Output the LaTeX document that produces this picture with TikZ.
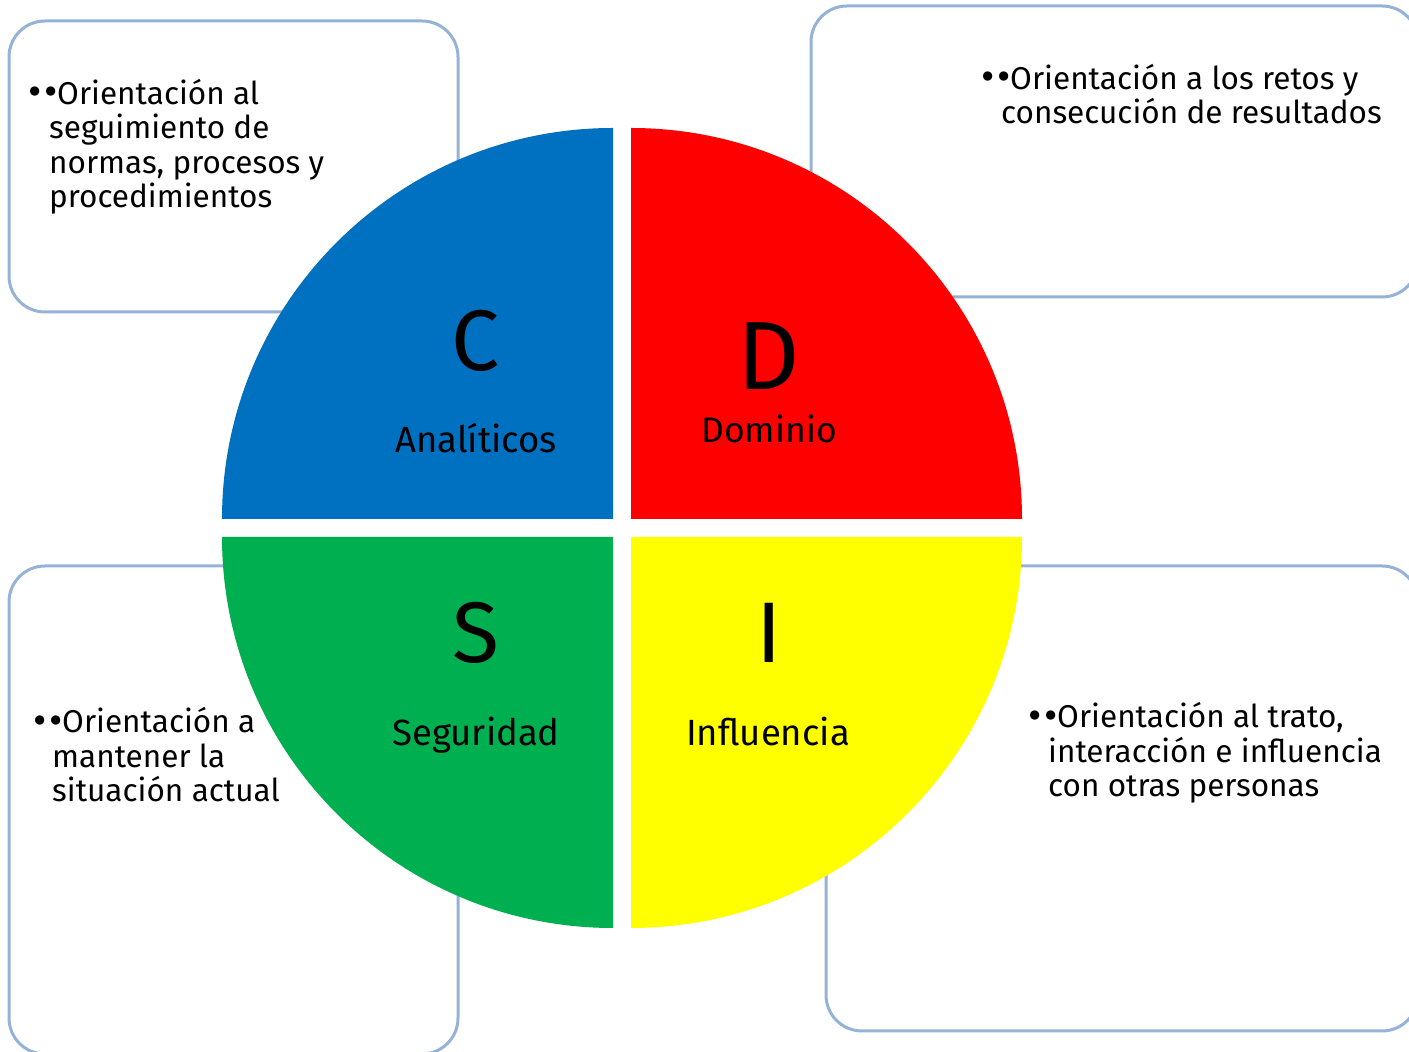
\documentclass[tikz,border=0pt]{standalone}
\usepackage{fontspec}
\setmainfont{Fira Sans}
\definecolor{cblue}{RGB}{0,112,192}
\definecolor{cred}{RGB}{255,0,0}
\definecolor{cgreen}{RGB}{0,176,80}
\definecolor{cyellow}{RGB}{255,255,0}
\definecolor{edgeblue}{RGB}{149,179,215}
\newcommand{\bigbul}{\raisebox{-1.2pt}{\scalebox{1.3}{•}}}
\newcommand{\twobul}{\bigbul\hspace{3.5pt}\bigbul\hspace{-1pt}}
\begin{document}
\begin{tikzpicture}[x=1pt,y=1pt,
  infobox/.style={draw=edgeblue, line width=3pt, fill=white, rounded corners=36pt},
  boxtext/.style={font=\fontsize{31.5}{34.5}\selectfont, align=left, anchor=base west, inner sep=0pt},
  bigletter/.style={font=\fontsize{86}{90}\selectfont, anchor=base, inner sep=0pt},
  quadlabel/.style={font=\fontsize{36.5}{40}\selectfont, anchor=base, inner sep=0pt}]
\useasboundingbox (0,0) rectangle (1409,1052);
\clip (0,0) rectangle (1409,1052);
\fill[white] (0,0) rectangle (1409,1052);
% boxes
\draw[infobox] (9,740) rectangle (458,1031);
\draw[infobox] (811,755) rectangle (1418,1046);
\draw[infobox] (9,-2) rectangle (458,486);
\draw[infobox] (826,21) rectangle (1418,486);
% quadrants
\fill[cblue] (613,533) -- ++(0,391) arc[start angle=90,end angle=180,radius=391] -- cycle;
\fill[cred] (631,533) -- ++(391,0) arc[start angle=0,end angle=90,radius=391] -- cycle;
\fill[cgreen] (613,515) -- ++(-391,0) arc[start angle=180,end angle=270,radius=391] -- cycle;
\fill[cyellow] (631,515) -- ++(0,-391) arc[start angle=270,end angle=360,radius=391] -- cycle;
% letters and labels
\node[bigletter] (c) at (476,681) {C};
\node[quadlabel] (cl) at (476,599) {Analíticos};
\node[bigletter, font=\fontsize{97}{100}\selectfont] (d) at (769,662) {D};
\node[quadlabel, font=\fontsize{35.5}{40}\selectfont] (dl) at (769,609) {Dominio};
\node[bigletter] (s) at (476,389) {S};
\node[quadlabel] (sl) at (476,306) {Seguridad};
\node[bigletter] (i) at (769,389) {I};
\node[quadlabel] (il) at (768,306) {Influencia};
% box texts (base anchor = baseline of the last line)
\node[boxtext] (tc) at (28,844) {\twobul Orientación al\\\hspace*{21pt}seguimiento de\\\hspace*{21pt}normas, procesos y\\\hspace*{21pt}procedimientos};
\node[boxtext] (td) at (981,928) {\twobul Orientación a los retos y\\\hspace*{20pt}consecución de resultados};
\node[boxtext] (ts) at (33,250) {\twobul Orientación a\\\hspace*{19pt}mantener la\\\hspace*{19pt}situación actual};
\node[boxtext] (ti) at (1028,255) {\twobul Orientación al trato,\\\hspace*{20pt}interacción e influencia\\\hspace*{20pt}con otras personas};
\end{tikzpicture}
\end{document}
